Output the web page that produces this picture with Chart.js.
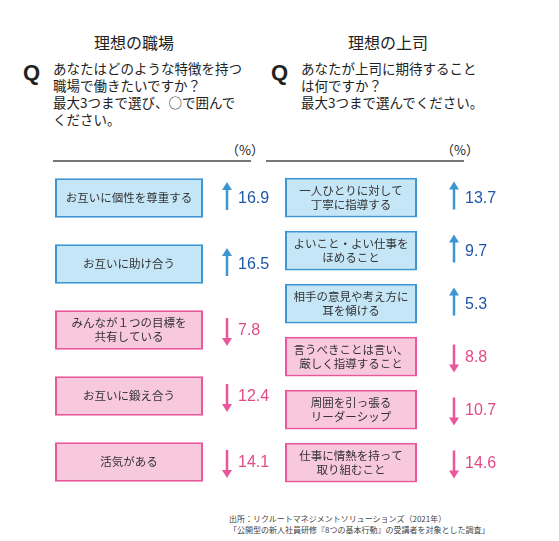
<!DOCTYPE html><html><head><meta charset="utf-8">
<script src="https://cdn.jsdelivr.net/npm/chart.js@4"></script>
<style>
body{margin:0;width:559px;height:541px;background:#fff;font-family:"Noto Sans CJK JP",sans-serif;position:relative;overflow:hidden;color:#222}
.a{position:absolute;white-space:nowrap}
.t{font-size:16px;top:30px}
.q{font-size:22px;font-weight:bold;font-family:"Liberation Sans",sans-serif;top:60px}
.qq{font-size:13.5px;line-height:17px;top:60px}
.p{font-size:13px;top:140px}
.hr{position:absolute;top:160px;height:2px;background:#777}
.src{font-size:8px;line-height:11px;top:513px;left:229px;color:#444}
canvas{position:absolute}
</style></head><body>
<div class="a t" style="left:94px">理想の職場</div>
<div class="a t" style="left:348px">理想の上司</div>
<div class="a q" style="left:23px">Q</div>
<div class="a q" style="left:271px">Q</div>
<div class="a qq" style="left:53px">あなたはどのような特徴を持つ<br>職場で働きたいですか？<br>最大3つまで選び、○で囲んで<br>ください。</div>
<div class="a qq" style="left:301px">あなたが上司に期待すること<br>は何ですか？<br>最大3つまで選んでください。</div>
<div class="a p" style="left:226px">（%）</div>
<div class="a p" style="left:441px">（%）</div>
<div class="hr" style="left:53px;width:198px"></div>
<div class="hr" style="left:266px;width:198px"></div>
<div class="a src">出所：リクルートマネジメントソリューションズ（2021年）<br>「公開型の新人社員研修『8つの基本行動』の受講者を対象とした調査」</div>
<div style="position:absolute;left:55px;top:165px;width:230px;height:330px"><canvas id="c1"></canvas></div>
<div style="position:absolute;left:285px;top:171px;width:230px;height:318px"><canvas id="c2"></canvas></div>
<script>
const workplaceLabels=[["お互いに個性を尊重する"],["お互いに助け合う"],["みんなが１つの目標を","共有している"],["お互いに鍛え合う"],["活気がある"]];
const workplaceValues=[16.9,16.5,7.8,12.4,14.1];
const workplaceTrend=["up","up","down","down","down"];
const bossLabels=[["一人ひとりに対して","丁寧に指導する"],["よいこと・よい仕事を","ほめること"],["相手の意見や考え方に","耳を傾ける"],["言うべきことは言い、","厳しく指導すること"],["周囲を引っ張る","リーダーシップ"],["仕事に情熱を持って","取り組むこと"]];
const bossValues=[13.7,9.7,5.3,8.8,10.7,14.6];
const bossTrend=["up","up","up","down","down","down"];
const BLUE={fill:'#c4e6f7',border:'#3d95d3',txt:'#1f57a8'},PINK={fill:'#f8c8dc',border:'#e9579a',txt:'#e24a86'};
function make(id,labels,values,trend,boxW,total,bp,off){
  const plug={id:'lbl',afterDatasetsDraw(ch){
    const ctx=ch.ctx;const meta=ch.getDatasetMeta(0);
    meta.data.forEach((b,i)=>{
      const c=trend[i]==='up'?BLUE:PINK;
      const x0=b.base,x1=b.x,cy=b.y;
      ctx.fillStyle='#333';ctx.font='11.5px "Noto Sans CJK JP"';ctx.textAlign='center';ctx.textBaseline='middle';
      const L=labels[i];L.forEach((s,k)=>ctx.fillText(s,(x0+x1)/2,cy+(k-(L.length-1)/2)*14));
      const ax=x1+off;ctx.strokeStyle=c.border;ctx.fillStyle=c.border;ctx.lineWidth=2.5;
      ctx.beginPath();ctx.moveTo(ax,cy-12);ctx.lineTo(ax,cy+12);ctx.stroke();
      ctx.beginPath();
      if(trend[i]==='up'){ctx.moveTo(ax-5,cy-8);ctx.lineTo(ax,cy-16);ctx.lineTo(ax+5,cy-8);}
      else{ctx.moveTo(ax-5,cy+8);ctx.lineTo(ax,cy+16);ctx.lineTo(ax+5,cy+8);}
      ctx.fill();
      ctx.fillStyle=c.txt;ctx.font='16px "Liberation Sans"';ctx.textAlign='left';
      ctx.fillText(values[i].toFixed(1),ax+11,cy+1);
    });}};
  new Chart(document.getElementById(id),{type:'bar',
    data:{labels:labels.map(l=>l.join('')),datasets:[{data:values.map(()=>[0,boxW]),
      backgroundColor:trend.map(t=>t==='up'?BLUE.fill:PINK.fill),borderColor:trend.map(t=>t==='up'?BLUE.border:PINK.border),
      borderWidth:2,borderSkipped:false,barPercentage:bp,categoryPercentage:1}]},
    options:{indexAxis:'y',responsive:true,maintainAspectRatio:false,animation:false,layout:{padding:0},
      plugins:{legend:{display:false},tooltip:{enabled:false}},
      scales:{x:{display:false,min:0,max:total},y:{display:false}}},plugins:[plug]});
}
make('c1',workplaceLabels,workplaceValues,workplaceTrend,148,230,0.6,24);
make('c2',bossLabels,bossValues,bossTrend,132,230,0.75,37);
</script></body></html>
